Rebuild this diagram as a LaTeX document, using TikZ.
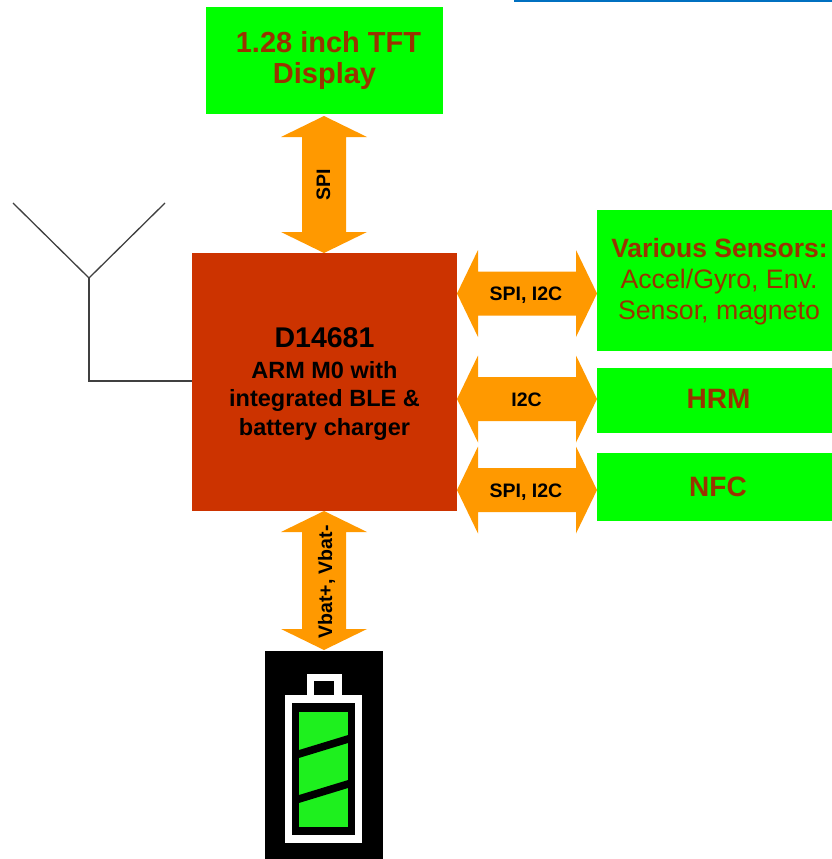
\documentclass[tikz,border=0pt]{standalone}
\usepackage{fontspec}
\setmainfont{Liberation Sans}
\definecolor{grn}{HTML}{00FF00}
\definecolor{batgrn}{HTML}{1EF01E}
\definecolor{chipred}{HTML}{CC3300}
\definecolor{org}{HTML}{FF9900}
\definecolor{brn}{HTML}{993300}
\definecolor{lnk}{HTML}{0070C0}
\definecolor{ant}{HTML}{404040}
\newcommand\hdarr[3]{% x1, x2, y centre
  \fill[org] (#1,#3) -- (#1+21,#3-43.5) -- (#1+21,#3-22) -- (#2-21,#3-22) -- (#2-21,#3-43.5) -- (#2,#3)
    -- (#2-21,#3+43.5) -- (#2-21,#3+22) -- (#1+21,#3+22) -- (#1+21,#3+43.5) -- cycle;}
\newcommand\vdarr[3]{% y1, y2, x centre
  \fill[org] (#3,#1) -- (#3+43,#1+21) -- (#3+22,#1+21) -- (#3+22,#2-21) -- (#3+43,#2-21) -- (#3,#2)
    -- (#3-43,#2-21) -- (#3-22,#2-21) -- (#3-22,#1+21) -- (#3-43,#1+21) -- cycle;}
\begin{document}
\begin{tikzpicture}[x=1pt,y=-1pt,
  greenbox/.style={fill=grn, draw=none, inner sep=0pt},
  chipbox/.style={fill=chipred, draw=none, inner sep=0pt},
  browntext/.style={text=brn, inner sep=0pt, align=center},
  arrowlabel/.style={font=\fontsize{19.5}{22}\selectfont\bfseries, inner sep=0pt, anchor=base},
  antline/.style={draw=ant, line width=1.3pt}
]
\useasboundingbox[fill=white] (0,0) rectangle (832,859);
% link underline at top
\fill[lnk] (514,0) rectangle (832,1.6);

% boxes
\node[greenbox, minimum width=237pt, minimum height=106pt] (disp) at (324.5,60.5) {};
\node[chipbox, minimum width=265pt, minimum height=258pt] (chip) at (324.5,382) {};
\node[greenbox, minimum width=245pt, minimum height=141pt, anchor=north west] (sens) at (597,210) {};
\node[greenbox, minimum width=245pt, minimum height=65pt, anchor=north west] (hrm) at (597,368) {};
\node[greenbox, minimum width=245pt, minimum height=68pt, anchor=north west] (nfc) at (597,453) {};

% box texts (base anchor of a multi-line node = baseline of its last line)
\node[browntext, anchor=base, font=\fontsize{29}{31}\selectfont\bfseries] (disptxt) at (324.5,83)
  {\rule{8pt}{0pt}1.28 inch TFT\\Display};
\node[inner sep=0pt, anchor=base, font=\fontsize{28.5}{31}\selectfont\bfseries] (chiptitle) at (324.5,347) {D14681};
\node[inner sep=0pt, anchor=base, align=center, font=\fontsize{23.5}{28.5}\selectfont\bfseries] (chiptxt) at (324.5,435)
  {ARM M0 with\\integrated BLE \&\\battery charger};
\node[browntext, anchor=base, font=\fontsize{26.5}{31}\selectfont\bfseries] (senstitle) at (719.5,257) {Various Sensors:};
\node[browntext, anchor=base, font=\fontsize{26.7}{31}\selectfont] (senstxt) at (719,319) {Accel/Gyro, Env.\\Sensor, magneto};
\node[browntext, anchor=base, font=\fontsize{28}{31}\selectfont\bfseries] (hrmtxt) at (718.5,408) {HRM};
\node[browntext, anchor=base, font=\fontsize{28}{31}\selectfont\bfseries] (nfctxt) at (718,496) {NFC};

% block arrows
\vdarr{116}{253}{324}
\vdarr{511}{650}{324}
\hdarr{457}{597}{293.5}
\hdarr{457}{597}{399}
\hdarr{457}{597}{490}

% arrow labels
\node[arrowlabel] (l1) at (526,300) {SPI, I2C};
\node[arrowlabel] (l2) at (526.5,406) {I2C};
\node[arrowlabel] (l3) at (526,497) {SPI, I2C};
\node[arrowlabel, rotate=90] (l4) at (330,184.5) {SPI};
\node[arrowlabel, rotate=90] (l5) at (332,582) {Vbat+, Vbat-};

% antenna
\coordinate (antL) at (13,203);
\coordinate (antR) at (165,203);
\coordinate (antJ) at (89,278);
\coordinate (antB) at (89,381);
\draw[antline] (antL) -- (antJ) -- (antR);
\draw[antline, line cap=butt] (antJ) -- (antB) -- (antB -| chip.west);

% battery
\fill[black] (265,651) rectangle (383,862);
\fill[white] (307,674) rectangle (342,698);
\fill[black] (314,681) rectangle (334,698);
\fill[white] (285,695) rectangle (362,843);
\fill[black] (292,703) rectangle (355,835);
\fill[batgrn] (299,712) rectangle (348,827);
\begin{scope}
  \clip (299,712) rectangle (348,827);
  \draw[black, line width=7.6pt] (295,755.2) -- (352,737.8);
  \draw[black, line width=7.6pt] (295,800.2) -- (352,782.8);
\end{scope}
\end{tikzpicture}
\end{document}
